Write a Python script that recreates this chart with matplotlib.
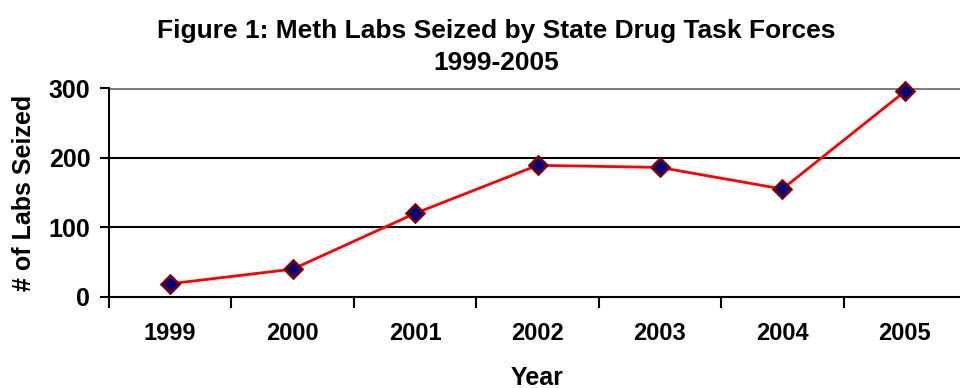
import numpy as np
import matplotlib.pyplot as plt

plt.rcParams['font.family'] = ['Liberation Sans', 'DejaVu Sans']
plt.rcParams['font.weight'] = 'bold'

years = ['1999', '2000', '2001', '2002', '2003', '2004', '2005']
labs_seized = [19, 40, 120, 189, 186, 155, 295]

fig = plt.figure(figsize=(9.6, 3.88), dpi=100)
ax = fig.add_axes([109 / 960, 91 / 388, 857 / 960, 209 / 388])

x = np.arange(len(years))
ax.plot(x, labs_seized, color='red', linewidth=2, marker='D', markersize=9,
        markerfacecolor='#000080', markeredgecolor='#800000', markeredgewidth=1.8,
        zorder=3, clip_on=False)

ax.set_xlim(-0.5, len(years) - 0.5)
ax.set_ylim(0, 300)
ax.set_yticks([0, 100, 200, 300])
ax.set_xticks(x)
ax.set_xticklabels(years)
ax.set_xticks(np.arange(-0.5, len(years)), minor=True)

# horizontal grid lines, top one gray
for v in [100, 200]:
    ax.axhline(v, color='black', linewidth=1.5, zorder=1)
ax.axhline(300, color='#808080', linewidth=2.2, zorder=1)

for side in ['top', 'right']:
    ax.spines[side].set_visible(False)
ax.spines['left'].set_linewidth(1.5)
ax.spines['bottom'].set_linewidth(1.5)

ax.tick_params(axis='y', labelsize=18, length=6.5, width=1.5, pad=7)
ax.tick_params(axis='x', which='major', labelsize=17, length=0, pad=18)
ax.tick_params(axis='x', which='minor', length=8, width=1.5)

ax.set_xlabel('Year', fontsize=18, fontweight='bold', labelpad=15)
ax.set_ylabel('# of Labs Seized', fontsize=18, fontweight='bold', labelpad=9)

fig.text(496 / 960, 1 - 31 / 388, 'Figure 1: Meth Labs Seized by State Drug Task Forces',
         ha='center', va='center', fontsize=19, fontweight='bold')
fig.text(496 / 960, 1 - 63 / 388, '1999-2005', ha='center', va='center',
         fontsize=19, fontweight='bold')

fig.savefig('out.png', dpi=100)
